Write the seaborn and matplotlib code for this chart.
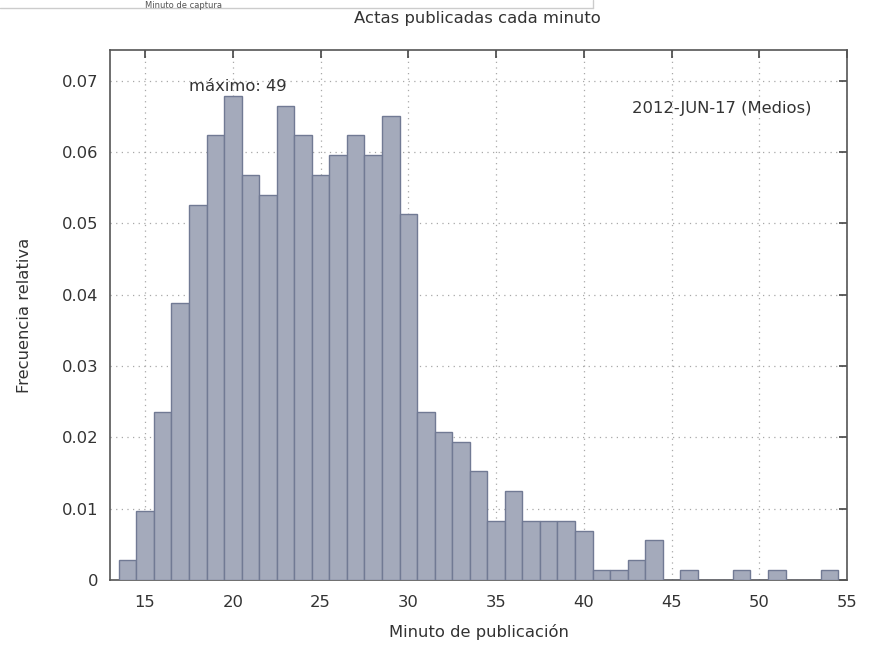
import numpy as np
import pandas as pd
import matplotlib
matplotlib.use("Agg")
import matplotlib.pyplot as plt
import seaborn as sns

# actas publicadas por minuto (conteos), total 722
minutos = [14, 15, 16, 17, 18, 19, 20, 21, 22, 23, 24, 25, 26, 27, 28, 29, 30,
           31, 32, 33, 34, 35, 36, 37, 38, 39, 40, 41, 42, 43, 44, 46, 49, 51, 54]
actas = [2, 7, 17, 28, 38, 45, 49, 41, 39, 48, 45, 41, 43, 45, 43, 47, 37,
         17, 15, 14, 11, 6, 9, 6, 6, 6, 5, 1, 1, 2, 4, 1, 1, 1, 1]

x_ticks = [15, 20, 25, 30, 35, 40, 45, 50, 55]
y_ticks = [0, 0.01, 0.02, 0.03, 0.04, 0.05, 0.06, 0.07]
y_labels = ['0', '0.01', '0.02', '0.03', '0.04', '0.05', '0.06', '0.07']

df = pd.DataFrame({'minuto': minutos, 'actas': actas})

sns.set_style("white")
plt.rcParams['font.family'] = ['DejaVu Sans']
txt = '#333333'
fs = 11.8

fig = plt.figure(figsize=(8.75, 6.45), dpi=100)
ax = fig.add_axes([0.1257, 0.1008, 0.8423, 0.8217])

sns.histplot(data=df, x='minuto', weights='actas', discrete=True, stat='probability',
             color='#a4aabb', edgecolor='#717a94', linewidth=1.0, alpha=1, ax=ax, zorder=3)

ax.set_xlim(13, 55)
ax.set_ylim(0, 0.0743)
ax.set_xticks(x_ticks)
ax.set_yticks(y_ticks)
ax.set_yticklabels(y_labels)
ax.grid(True, linestyle=(0, (1, 3.5)), color='#a8a8a8', linewidth=0.9, zorder=0)
ax.set_axisbelow(True)
ax.tick_params(direction='in', length=6, width=1.2, top=True, right=True,
               colors='#444444', labelcolor=txt, labelsize=fs)
ax.tick_params(axis='x', pad=11)
ax.tick_params(axis='y', pad=8.5)
for s in ax.spines.values():
    s.set_color('#555555')
    s.set_linewidth(1.2)

ax.set_xlabel('Minuto de publicación', fontsize=fs, color=txt, labelpad=10)
ax.set_ylabel('Frecuencia relativa', fontsize=fs, color=txt, labelpad=21)
fig.text(0.545, 0.972, 'Actas publicadas cada minuto', ha='center', va='center',
         fontsize=fs, color=txt)

ax.text(20.3, 0.0692, 'máximo: 49', ha='center', va='center', fontsize=fs, color=txt)
ax.text(53.0, 0.0661, '2012-JUN-17 (Medios)', ha='right', va='center', fontsize=fs, color=txt)

# resto de la leyenda superior (recortada en la captura original)
fig.text(0.21, 0.999, 'Minuto de captura', ha='center', va='top', fontsize=6, color='#555555')
fig.add_artist(plt.Line2D([0.0, 0.678], [0.987, 0.987], color='#cccccc', linewidth=1))
fig.add_artist(plt.Line2D([0.678, 0.678], [0.987, 1.0], color='#cccccc', linewidth=1))

fig.savefig('out.png', dpi=100)
